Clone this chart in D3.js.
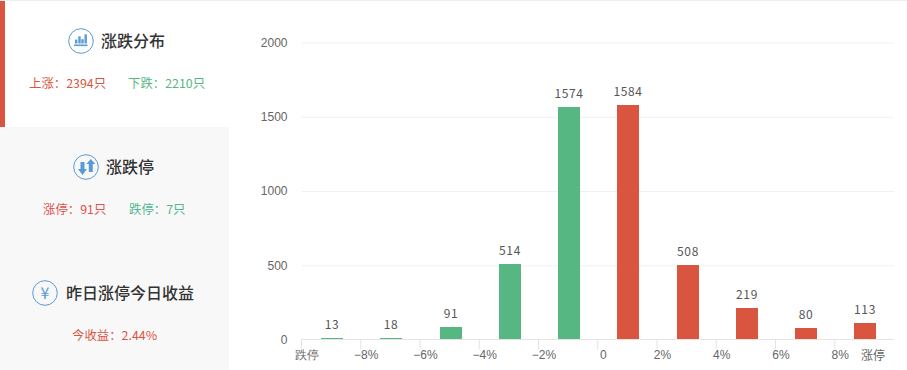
<!DOCTYPE html>
<html>
<head>
<meta charset="utf-8">
<script src="https://cdn.jsdelivr.net/npm/d3@7"></script>
<style>
html, body { margin: 0; padding: 0; background: #fff; }
svg { display: block; font-family: 'Noto Sans CJK SC', 'Noto Sans', sans-serif; }
</style>
</head>
<body>
<div id="app"></div>
<script>
'use strict'

// Distribution buckets, left to right
const buckets = ['b0', 'b1', 'b2', 'b3', 'b4', 'b5', 'b6', 'b7', 'b8', 'b9']
const counts = [13, 18, 91, 514, 1574, 1584, 508, 219, 80, 113]
const tickLabels = ['跌停', '−8%', '−6%', '−4%', '−2%', '0', '2%', '4%', '6%', '8%']
const lastLabel = '涨停'
const yTicks = [0, 500, 1000, 1500, 2000]

const statTitles = ['涨跌分布', '涨跌停', '昨日涨停今日收益']
const upStats = ['上涨：2394只', '涨停：91只', '今收益：2.44%']
const downStats = ['下跌：2210只', '跌停：7只', null]

const RED = '#d95540'
const GREEN = '#57b782'
const BLUE = '#5b9bd5'

const svg = d3.select('#app').append('svg')
	.attr('width', 907)
	.attr('height', 370)

svg.append('rect').attr('width', 907).attr('height', 370).attr('fill', '#fff')
svg.append('rect').attr('width', 907).attr('height', 1).attr('fill', '#eeeeee')

/*
 * Left panel
 */
svg.append('rect').attr('x', 0).attr('y', 127).attr('width', 229).attr('height', 243).attr('fill', '#f8f8f8')
svg.append('rect').attr('x', 0).attr('y', 1).attr('width', 5).attr('height', 126).attr('fill', RED)

const cards = [
	{ icon: [81, 41], titleX: 101, statY: 83, upX: 29, upColor: RED, downX: 128, downColor: GREEN },
	{ icon: [86, 167], titleX: 106, statY: 209, upX: 43, upColor: '#e2504f', downX: 129, downColor: '#4fb88c' },
	{ icon: [45, 293], titleX: 66, statY: 335, upX: 72, upColor: RED, downX: 0, downColor: GREEN }
]

cards.forEach((c, i) => {
	const g = svg.append('g')
	const icon = g.append('g').attr('transform', `translate(${c.icon[0]}, ${c.icon[1]})`)

	icon.append('circle')
		.attr('r', 12.3)
		.attr('fill', 'none')
		.attr('stroke', BLUE)
		.attr('stroke-width', 1)

	if (i === 0) {
		icon.selectAll('.ib')
			.data([[-6, -1.4, 3.9], [-2.7, -4.7, 7.2], [0.3, -1.8, 4.3], [3.5, -6.7, 9.2]])
			.enter().append('rect')
			.attr('x', d => d[0])
			.attr('y', d => d[1])
			.attr('width', 2.4)
			.attr('height', d => d[2])
			.attr('fill', BLUE)
		icon.append('rect').attr('x', -7).attr('y', 3.5).attr('width', 13.5).attr('height', 1.6).attr('fill', BLUE)
	} else if (i === 1) {
		// down arrow, then up arrow
		icon.append('path')
			.attr('d', 'M-5.5 -5h4v7h2.5l-4.5 6l-4.5-6h2.5z')
			.attr('fill', BLUE)
		icon.append('path')
			.attr('d', 'M2.8 5h4v-8h2.5l-4.5-5l-4.5 5h2.5z')
			.attr('fill', BLUE)
	} else {
		icon.append('text')
			.attr('text-anchor', 'middle')
			.attr('y', 5.5)
			.attr('font-size', 16)
			.attr('fill', BLUE)
			.text('¥')
	}

	g.append('text')
		.attr('x', c.titleX)
		.attr('y', c.icon[1] + 6)
		.attr('font-size', 16)
		.attr('font-weight', 500)
		.attr('fill', '#333')
		.text(statTitles[i])

	g.append('text')
		.attr('x', c.upX)
		.attr('y', c.statY + 4.5)
		.attr('font-size', 12.4)
		.attr('fill', c.upColor)
		.text(upStats[i])

	if (downStats[i]) {
		g.append('text')
			.attr('x', c.downX)
			.attr('y', c.statY + 4.5)
			.attr('font-size', 12.4)
			.attr('fill', c.downColor)
			.text(downStats[i])
	}
})

/*
 * Chart
 */
const xScale = d3.scaleBand()
	.domain(buckets)
	.range([301.5, 894])

const yScale = d3.scaleLinear()
	.domain([0, 2000])
	.range([339.5, 42.5])

const barWidth = 22
const barLeft = i => Math.round(xScale(buckets[i]) + (xScale.bandwidth() - barWidth) / 2 + 1)
const barTop = d => Math.round(yScale(d) + 0.75)

// Grid lines and y labels
svg.append('g')
	.attr('class', 'y axis')
	.attr('transform', 'translate(301.5, 0)')
	.call(d3.axisLeft(yScale).tickValues(yTicks).tickFormat(d3.format('d')).tickSize(0).tickPadding(14))
	.call(g => g.select('.domain').remove())
	.call(g => g.selectAll('text').attr('font-size', 12).attr('font-family', null).attr('fill', '#666'))
	.call(g => g.selectAll('.tick').filter(d => d > 0).append('line')
		.attr('x2', 592.5)
		.attr('stroke', '#f0f0f0'))

// X axis, ticks sit on the left edge of every bucket
const xAxis = svg.append('g')
	.attr('class', 'x axis')
	.attr('transform', `translate(${-xScale.bandwidth() / 2}, 339.5)`)
	.call(d3.axisBottom(xScale)
		.tickSize(10)
		.tickSizeOuter(0)
		.tickPadding(1)
		.tickFormat((d, i) => tickLabels[i]))
	.call(g => g.select('.domain').remove())
	.call(g => g.selectAll('line').attr('stroke', '#e4e4e4'))
	.call(g => g.selectAll('text')
		.attr('dx', 5.5)
		.attr('font-size', 12)
		.attr('font-family', null)
		.attr('fill', '#666'))

svg.append('line')
	.attr('x1', xScale.range()[0])
	.attr('x2', xScale.range()[1])
	.attr('y1', 339.5)
	.attr('y2', 339.5)
	.attr('stroke', '#e4e4e4')

svg.append('text')
	.attr('x', xScale.range()[1] - 21)
	.attr('y', 359.5)
	.attr('text-anchor', 'middle')
	.attr('font-size', 12)
	.attr('fill', '#666')
	.text(lastLabel)

// Bars
svg.selectAll('.bar')
	.data(counts)
	.enter().append('rect')
	.attr('class', 'bar')
	.attr('x', (d, i) => barLeft(i))
	.attr('y', d => barTop(d))
	.attr('width', barWidth)
	.attr('height', d => 339 - barTop(d))
	.attr('fill', (d, i) => i < 5 ? GREEN : RED)

// Bar value text
svg.selectAll('.text')
	.data(counts)
	.enter().append('text')
	.attr('class', 'text')
	.attr('x', (d, i) => barLeft(i) + barWidth / 2)
	.attr('y', d => barTop(d) - 9.5)
	.attr('text-anchor', 'middle')
	.attr('font-size', 12)
	.attr('letter-spacing', 0.6)
	.attr('fill', '#555')
	.text(d => d)
</script>
</body>
</html>
